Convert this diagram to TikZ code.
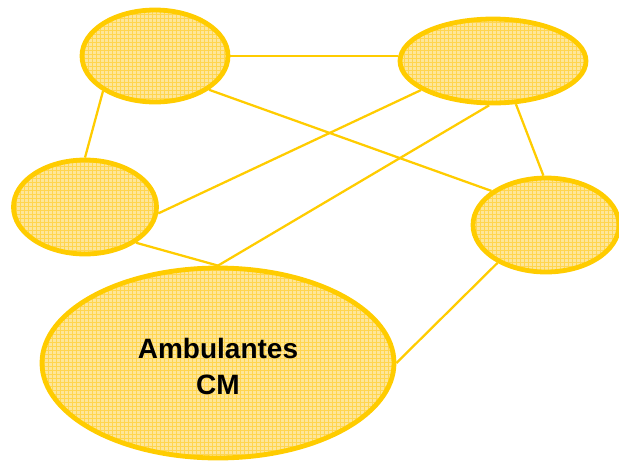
\documentclass[tikz,border=0pt]{standalone}
\usepackage{fontspec}
\setmainfont{Liberation Sans}
\usetikzlibrary{shapes.geometric,patterns}
\definecolor{gold}{HTML}{FFCC00}
\definecolor{paleyellow}{HTML}{FDE69A}
\definecolor{hatch}{HTML}{FFD54F}
\tikzset{
  blob/.style={ellipse, draw=gold, line width=3.6pt,
    preaction={fill=paleyellow},
    preaction={pattern=grid, pattern color=hatch},
    inner sep=0pt},
  link/.style={draw=gold, line width=1.7pt},
  caption/.style={font=\bfseries\fontsize{21}{27}\selectfont, align=center}
}
\begin{document}
\begin{tikzpicture}[x=0.75pt,y=-0.75pt]
\useasboundingbox (0,0) rectangle (619,462);
% node centres
\coordinate (p1) at (155,56);
\coordinate (p2) at (493,61);
\coordinate (p3) at (85,207);
\coordinate (p4) at (546,225);
\coordinate (p5) at (218,363);
% the five ellipses
\node[blob, minimum width=146*0.75pt, minimum height=92*0.75pt] (n1) at (p1) {};
\node[blob, minimum width=186*0.75pt, minimum height=84*0.75pt] (n2) at (p2) {};
\node[blob, minimum width=143*0.75pt, minimum height=94*0.75pt] (n3) at (p3) {};
\node[blob, minimum width=146*0.75pt, minimum height=94*0.75pt] (n4) at (p4) {};
\node[blob, minimum width=352*0.75pt, minimum height=190*0.75pt] (n5) at (p5) {};
\node[caption] (lbl) at (218,366) {Ambulantes\\CM};
% links between the ellipses
\draw[link] (n1.east) -- (n1.east -| n2.west);
\draw[link] (n1.-146) -- (n3.north);
\draw[link] (n1.-32) -- (n4.148);
\draw[link] (n2.-158) -- (n3.-5);
\draw[link] (n2.-95) -- (n5.north);
\draw[link] (n2.-62) -- (n4.93);
\draw[link] (n3.-35) -- (n5.north);
\draw[link] (n4.-142) -- (n5.east);
\end{tikzpicture}
\end{document}
